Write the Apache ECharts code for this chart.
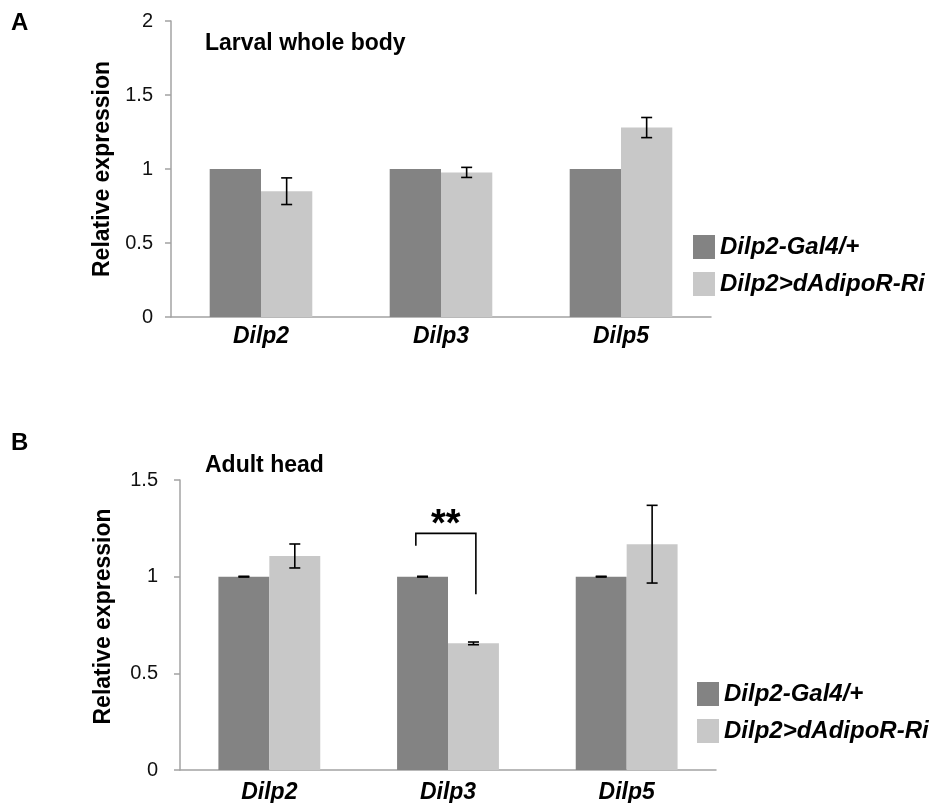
<!DOCTYPE html>
<html>
<head>
<meta charset="utf-8">
<script src="https://cdn.jsdelivr.net/npm/echarts@6/dist/echarts.min.js"></script>
<style>
html,body{margin:0;padding:0;background:#fff;}
#chart{width:932px;height:803px;}
</style>
</head>
<body>
<div id="chart"></div>
<script>
// ---- data ----
const categories = ['Dilp2', 'Dilp3', 'Dilp5'];
const seriesNames = ['Dilp2-Gal4/+', 'Dilp2>dAdipoR-Ri'];
const titleA = 'Larval whole body';
const titleB = 'Adult head';
const panelLabels = ['A', 'B'];
const yNameText = 'Relative expression';

// Panel A: larval whole body
const controlA = [1, 1, 1];
const knockdownA = [0.85, 0.977, 1.28];
const controlErrA = [null, null, null];
const knockdownErrA = [0.09, 0.034, 0.068];

// Panel B: adult head
const controlB = [1, 1, 1];
const knockdownB = [1.107, 0.655, 1.168];
const controlErrB = [0.002, 0.002, 0.002];
const knockdownErrB = [0.062, 0.007, 0.201];

// significance bracket in panel B (category index, top, left leg bottom, right leg bottom)
const sigCategory = 1;
const sigTop = 1.224;
const sigLeftBottom = 1.160;
const sigRightBottom = 0.909;
const sigLabel = '**';

// tick settings
const yMaxA = 2, yMaxB = 1.5, yInterval = 0.5;

// ---- styles ----
const FONT = '"Liberation Sans", Arial, Helvetica, sans-serif';
const DARK = '#838383';
const LIGHT = '#c8c8c8';
const AXIS = '#a3a3a3';
const GAP = 0.43;

function errData(vals, errs) {
  const out = [];
  vals.forEach((v, i) => { if (errs[i] != null) out.push([i, v, errs[i]]); });
  return out;
}

function errorRenderer(side) {
  return function (params, api) {
    const cat = api.value(0), v = api.value(1), e = api.value(2);
    const band = api.size([1, 0])[0];
    const barW = band * (1 - GAP) / 2;
    const c = api.coord([cat, v]);
    const x = c[0] + side * barW / 2;
    const yt = api.coord([cat, v + e])[1];
    const yb = api.coord([cat, v - e])[1];
    const hw = 5.5;
    const st = { stroke: '#000', lineWidth: 1.6 };
    return {
      type: 'group',
      children: [
        { type: 'line', shape: { x1: x, y1: yt, x2: x, y2: yb }, style: st },
        { type: 'line', shape: { x1: x - hw, y1: yt, x2: x + hw, y2: yt }, style: st },
        { type: 'line', shape: { x1: x - hw, y1: yb, x2: x + hw, y2: yb }, style: st }
      ]
    };
  };
}

function xAxisCfg(grid, margin) {
  return {
    type: 'category', gridIndex: grid, data: categories,
    axisLine: { lineStyle: { color: AXIS, width: 1.5 } },
    axisTick: { show: false },
    axisLabel: { margin: margin, fontFamily: FONT, fontSize: 23, fontWeight: 'bold', fontStyle: 'italic', color: '#000' },
    splitLine: { show: false }
  };
}
function yAxisCfg(grid, max, margin, nameGap, namePad) {
  return {
    type: 'value', gridIndex: grid, min: 0, max: max, interval: yInterval,
    name: yNameText, nameLocation: 'middle', nameGap: nameGap,
    nameTextStyle: { fontFamily: FONT, fontSize: 23, fontWeight: 'bold', color: '#000', padding: namePad },
    axisLine: { show: true, lineStyle: { color: AXIS, width: 1.5 } },
    axisTick: { show: true, length: 6, lineStyle: { color: AXIS, width: 1.5 } },
    axisLabel: { margin: margin, fontFamily: FONT, fontSize: 20, color: '#111' },
    splitLine: { show: false }
  };
}
function legendCfg(left, top) {
  return {
    orient: 'vertical', left: left, top: top, padding: 0,
    itemWidth: 22, itemHeight: 24, itemGap: 13, icon: 'rect',
    data: seriesNames,
    textStyle: { fontFamily: FONT, fontSize: 24, fontWeight: 'bold', fontStyle: 'italic', color: '#000', padding: [0, 0, 5, 0] },
    selectedMode: false
  };
}

const chart = echarts.init(document.getElementById('chart'), null, { renderer: 'canvas' });
const option = {
  animation: false,
  backgroundColor: '#fff',
  title: [
    { text: panelLabels[0], left: 11, top: 11, padding: 0, textStyle: { fontFamily: FONT, fontSize: 24, fontWeight: 'bold', color: '#000' } },
    { text: panelLabels[1], left: 11, top: 431, padding: 0, textStyle: { fontFamily: FONT, fontSize: 24, fontWeight: 'bold', color: '#000' } },
    { text: titleA, left: 205, top: 32, padding: 0, textStyle: { fontFamily: FONT, fontSize: 23, fontWeight: 'bold', color: '#000' } },
    { text: titleB, left: 205, top: 454, padding: 0, textStyle: { fontFamily: FONT, fontSize: 23, fontWeight: 'bold', color: '#000' } }
  ],
  legend: [legendCfg(693, 235), legendCfg(697, 682)],
  grid: [
    { left: 171, right: 221, top: 21, bottom: 486, containLabel: false, outerBoundsMode: 'none' },
    { left: 180, right: 216, top: 480, bottom: 33, containLabel: false, outerBoundsMode: 'none' }
  ],
  xAxis: [xAxisCfg(0, 8), xAxisCfg(1, 11)],
  yAxis: [yAxisCfg(0, yMaxA, 18, 56, [0, 0, 0, 0]), yAxisCfg(1, yMaxB, 22, 65, [0, 0, 0, 17])],
  series: [
    { name: seriesNames[0], type: 'bar', xAxisIndex: 0, yAxisIndex: 0, data: controlA, barGap: 0, barCategoryGap: (GAP * 100) + '%', itemStyle: { color: DARK } },
    { name: seriesNames[1], type: 'bar', xAxisIndex: 0, yAxisIndex: 0, data: knockdownA, barGap: 0, barCategoryGap: (GAP * 100) + '%', itemStyle: { color: LIGHT } },
    { type: 'custom', xAxisIndex: 0, yAxisIndex: 0, data: errData(controlA, controlErrA), renderItem: errorRenderer(-1), z: 10, silent: true },
    { type: 'custom', xAxisIndex: 0, yAxisIndex: 0, data: errData(knockdownA, knockdownErrA), renderItem: errorRenderer(1), z: 10, silent: true },
    { name: seriesNames[0], type: 'bar', xAxisIndex: 1, yAxisIndex: 1, data: controlB, barGap: 0, barCategoryGap: (GAP * 100) + '%', itemStyle: { color: DARK } },
    { name: seriesNames[1], type: 'bar', xAxisIndex: 1, yAxisIndex: 1, data: knockdownB, barGap: 0, barCategoryGap: (GAP * 100) + '%', itemStyle: { color: LIGHT } },
    { type: 'custom', xAxisIndex: 1, yAxisIndex: 1, data: errData(controlB, controlErrB), renderItem: errorRenderer(-1), z: 10, silent: true },
    { type: 'custom', xAxisIndex: 1, yAxisIndex: 1, data: errData(knockdownB, knockdownErrB), renderItem: errorRenderer(1), z: 10, silent: true },
    {
      type: 'custom', xAxisIndex: 1, yAxisIndex: 1, z: 10, silent: true,
      data: [[sigCategory, sigTop, sigLeftBottom, sigRightBottom]],
      renderItem: function (params, api) {
        const cat = api.value(0);
        const band = api.size([1, 0])[0];
        const cx = api.coord([cat, 0])[0];
        const xl = cx - 0.18 * band;
        const xr = cx + 0.156 * band;
        const yt = api.coord([cat, api.value(1)])[1];
        const yl = api.coord([cat, api.value(2)])[1];
        const yr = api.coord([cat, api.value(3)])[1];
        const st = { stroke: '#000', lineWidth: 1.6, fill: null };
        return {
          type: 'group',
          children: [
            { type: 'polyline', shape: { points: [[xl, yl], [xl, yt], [xr, yt], [xr, yr]] }, style: st },
            { type: 'text', style: { text: sigLabel, x: (xl + xr) / 2, y: yt + 11, align: 'center', verticalAlign: 'bottom', fontFamily: FONT, fontSize: 38, fontWeight: 'bold', fill: '#000' } }
          ]
        };
      }
    }
  ]
};
chart.setOption(option);
</script>
</body>
</html>
